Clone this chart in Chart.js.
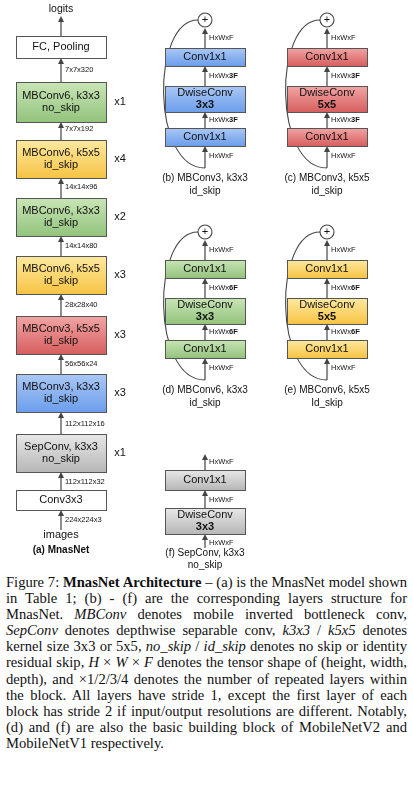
<!DOCTYPE html>
<html><head><meta charset="utf-8">
<script src="https://cdn.jsdelivr.net/npm/chart.js@4/dist/chart.umd.min.js"></script>
<style>
body{margin:0;background:#fff;width:413px;}
#wrap{position:relative;width:413px;height:572px;}
#cap{font-family:"Liberation Serif",serif;font-size:14.6px;line-height:16.1px;text-align:justify;padding:0 6px 0 6px;margin:2px 0 0 0;color:#111;}
</style></head><body>
<div id="wrap"><canvas id="c"></canvas></div>
<p id="cap">Figure 7: <b>MnasNet Architecture</b> – (a) is the MnasNet model shown in Table 1; (b) - (f) are the corresponding layers structure for MnasNet. <i>MBConv</i> denotes mobile inverted bottleneck conv, <i>SepConv</i> denotes depthwise separable conv, <i>k3x3</i> / <i>k5x5</i> denotes kernel size 3x3 or 5x5, <i>no_skip</i> / <i>id_skip</i> denotes no skip or identity residual skip, <i>H</i> × <i>W</i> × <i>F</i> denotes the tensor shape of (height, width, depth), and ×1/2/3/4 denotes the number of repeated layers within the block. All layers have stride 1, except the first layer of each block has stride 2 if input/output resolutions are different. Notably, (d) and (f) are also the basic building block of MobileNetV2 and MobileNetV1 respectively.</p>
<script>
// (a) main column, top to bottom
const blockNames = ["FC, Pooling", "MBConv6, k3x3\nno_skip", "MBConv6, k5x5\nid_skip", "MBConv6, k3x3\nid_skip",
  "MBConv6, k5x5\nid_skip", "MBConv3, k5x5\nid_skip", "MBConv3, k3x3\nid_skip", "SepConv, k3x3\nno_skip", "Conv3x3"];
const blockColors = ["white", "green", "yellow", "green", "yellow", "red", "blue", "gray", "white"];
const blockRepeats = ["", "x1", "x4", "x2", "x3", "x3", "x3", "x1", ""];
const blockTop = [36, 82, 140, 198, 256, 316, 374, 434, 490];
const blockBottom = [58, 122, 178, 236, 294, 354, 412, 472, 510];
const shapes = ["7x7x320", "7x7x192", "14x14x96", "14x14x80", "28x28x40", "56x56x24", "112x112x16", "112x112x32", "224x224x3"];
const shapeY = [70, 129, 187, 246, 305, 364, 424, 482, 520];

// (b)-(f) sub blocks
const subCaps = [["(b) MBConv3, k3x3", "id_skip"], ["(c) MBConv3, k5x5", "id_skip"], ["(d) MBConv6, k3x3", "id_skip"],
  ["(e) MBConv6, k5x5", "Id_skip"], ["(f) SepConv, k3x3", "no_skip"]];
const subColors = ["blue", "red", "green", "yellow", "gray"];
const subKernel = ["3x3", "5x5", "3x3", "5x5", "3x3"];
const subExpand = ["3F", "3F", "6F", "6F", ""];
const subLeft = [165, 287, 165, 287, 165];
const subTop = [8, 8, 220, 220, 452];

const palette = {
  white: ["#ffffff", "#ffffff"], green: ["#c9e5b6", "#93c47d"], yellow: ["#ffe9a0", "#f6c445"],
  red: ["#f2a5a5", "#d75f5f"], blue: ["#aac8f5", "#6d9eeb"], gray: ["#e8e8e8", "#b7b7b7"]
};

const plugin = {
  id: "diagram",
  afterDraw(chart) {
    const ctx = chart.ctx, xs = chart.scales.x, ys = chart.scales.y;
    const X = v => xs.getPixelForValue(v), Y = v => ys.getPixelForValue(v);
    function box(x0, y0, x1, y1, col, lines, boldLast) {
      const g = ctx.createLinearGradient(0, Y(y0), 0, Y(y1));
      g.addColorStop(0, palette[col][0]); g.addColorStop(1, palette[col][1]);
      ctx.fillStyle = g; ctx.fillRect(X(x0), Y(y0), X(x1) - X(x0), Y(y1) - Y(y0));
      ctx.strokeStyle = "#555"; ctx.lineWidth = 1;
      ctx.strokeRect(X(x0) + .5, Y(y0) + .5, X(x1) - X(x0), Y(y1) - Y(y0));
      ctx.fillStyle = "#111"; ctx.textAlign = "center"; ctx.textBaseline = "middle";
      const cy = (Y(y0) + Y(y1)) / 2, n = lines.length;
      lines.forEach((t, i) => {
        ctx.font = (boldLast && i == n - 1 ? "bold " : "") + "11px 'Liberation Sans'";
        ctx.fillText(t, (X(x0) + X(x1)) / 2, cy + (i - (n - 1) / 2) * 12.5);
      });
    }
    function arrow(x, yFrom, yTo) {
      ctx.strokeStyle = "#444"; ctx.fillStyle = "#444"; ctx.lineWidth = 1.2;
      ctx.beginPath(); ctx.moveTo(X(x), Y(yFrom)); ctx.lineTo(X(x), Y(yTo) + 5); ctx.stroke();
      ctx.beginPath(); ctx.moveTo(X(x), Y(yTo)); ctx.lineTo(X(x) - 3, Y(yTo) + 6); ctx.lineTo(X(x) + 3, Y(yTo) + 6); ctx.fill();
    }
    function txt(t, x, y, size, align, bold) {
      ctx.fillStyle = "#111"; ctx.textAlign = align || "center"; ctx.textBaseline = "middle";
      ctx.font = (bold ? "bold " : "") + (size || 8) + "px 'Liberation Sans'";
      ctx.fillText(t, X(x), Y(y));
    }
    // (a)
    const cx = 61;
    txt("logits", cx, 9, 10.5);
    arrow(cx, blockTop[0], 16);
    blockNames.forEach((n, i) => {
      box(16, blockTop[i], 106, blockBottom[i], blockColors[i], n.split("\n"));
      if (blockRepeats[i]) txt(blockRepeats[i], 120, (blockTop[i] + blockBottom[i]) / 2, 11);
      const below = i + 1 < blockTop.length ? blockTop[i + 1] : 530;
      arrow(cx, below, blockBottom[i]);
      txt(shapes[i], cx + 4, shapeY[i], 7.5, "left");
    });
    txt("images", cx, 535, 11);
    txt("(a) MnasNet", cx, 550, 10, "center", true);
    // (b)-(f)
    subCaps.forEach((cap, i) => {
      const l = subLeft[i], r = l + 80, m = l + 40, t = subTop[i];
      const noSkip = !subExpand[i];
      let y = t;
      if (!noSkip) {
        ctx.strokeStyle = "#444"; ctx.lineWidth = 1.1;
        ctx.beginPath(); ctx.arc(X(m), Y(t + 12), 7, 0, 2 * Math.PI); ctx.fillStyle = "#fff"; ctx.fill(); ctx.stroke();
        txt("+", m, t + 12, 11);
        arrow(m, t + 40, t + 20);
        txt("HxWxF", m + 4, t + 30, 7.5, "left");
        ctx.strokeStyle = "#444"; ctx.lineWidth = 1.1;
        ctx.beginPath(); ctx.moveTo(X(m), Y(t + 160));
        ctx.bezierCurveTo(X(l - 14), Y(t + 160), X(l - 14), Y(t + 12), X(m - 7), Y(t + 12));
        ctx.stroke();
        y = t + 40;
      }
      const c1 = noSkip ? [t + 18, t + 38] : [y, y + 18];
      const dw = noSkip ? [t + 56, t + 82] : [y + 38, y + 64];
      const c2 = noSkip ? null : [y + 80, y + 98];
      const e = subExpand[i];
      if (noSkip) {
        txt("HxWxF", m + 4, t + 10, 7.5, "left");
        arrow(m, c1[0] + 0.1, t + 2 + 0.1);
        box(l, c1[0], r, c1[1], subColors[i], ["Conv1x1"]);
        arrow(m, dw[0], c1[1]); txt("HxWxF", m + 4, t + 48, 7.5, "left");
        box(l, dw[0], r, dw[1], subColors[i], ["DwiseConv", subKernel[i]], true);
        arrow(m, dw[1] + 14, dw[1]); txt("HxWxF", m + 4, dw[1] + 9, 7.5, "left");
        txt(cap[0], m, dw[1] + 19, 10); txt(cap[1], m, dw[1] + 31, 10);
      } else {
        box(l, c1[0], r, c1[1], subColors[i], ["Conv1x1"]);
        arrow(m, dw[0], c1[1]);
        txt("HxWx", m + 4, (c1[1] + dw[0]) / 2, 7.5, "left"); txt(e, m + 24, (c1[1] + dw[0]) / 2, 7.5, "left", true);
        box(l, dw[0], r, dw[1], subColors[i], ["DwiseConv", subKernel[i]], true);
        arrow(m, c2[0], dw[1]);
        txt("HxWx", m + 4, (dw[1] + c2[0]) / 2, 7.5, "left"); txt(e, m + 24, (dw[1] + c2[0]) / 2, 7.5, "left", true);
        box(l, c2[0], r, c2[1], subColors[i], ["Conv1x1"]);
        arrow(m, c2[1] + 22, c2[1]);
        txt("HxWxF", m + 4, c2[1] + 10, 7.5, "left");
        txt(cap[0], m, c2[1] + 32, 10); txt(cap[1], m, c2[1] + 45, 10);
      }
    });
  }
};

new Chart(document.getElementById("c"), {
  type: "scatter",
  data: { datasets: [{ data: blockTop.map((t, i) => ({ x: 61, y: (t + blockBottom[i]) / 2 })), pointRadius: 0 }] },
  options: {
    responsive: true, maintainAspectRatio: false, animation: false,
    layout: { padding: 0 },
    plugins: { legend: { display: false }, tooltip: { enabled: false } },
    scales: {
      x: { type: "linear", min: 0, max: 413, display: false },
      y: { type: "linear", min: 0, max: 572, reverse: true, display: false }
    }
  },
  plugins: [plugin]
});
</script>
</body></html>
